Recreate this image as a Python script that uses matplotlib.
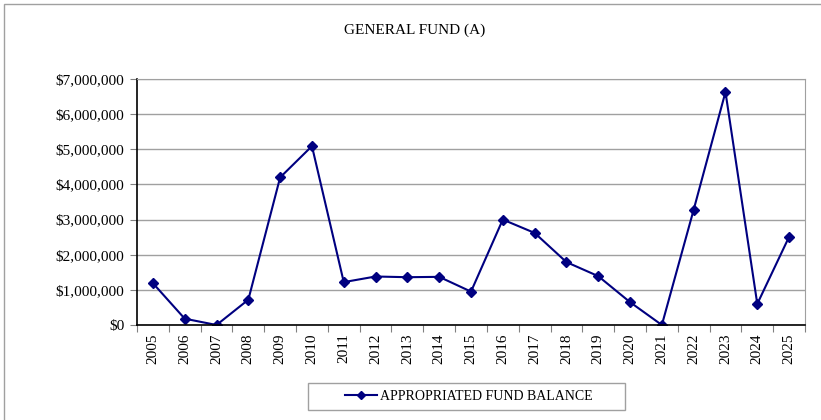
import numpy as np
import matplotlib
matplotlib.use("Agg")
import matplotlib.pyplot as plt
from matplotlib.patches import Rectangle
from matplotlib.ticker import FuncFormatter, FixedLocator, NullFormatter

plt.rcParams['font.family'] = ['Liberation Serif', 'DejaVu Serif']

years = [str(y) for y in range(2005, 2026)]
balance = [1190000, 180000, 0, 720000, 4200000, 5090000, 1220000, 1380000,
           1360000, 1370000, 950000, 3000000, 2620000, 1790000, 1390000,
           650000, 0, 3280000, 6630000, 600000, 2510000]

W, H = 821, 420
fig = plt.figure(figsize=(W/100, H/100), dpi=100)
ax = fig.add_axes([137/W, 1 - 325/H, (805 - 137)/W, (325 - 79)/H])

# chart frame
fig.patches.append(Rectangle((4/W, -0.1), 1.2, 1 - 4/H + 0.1,
                             transform=fig.transFigure, fill=False,
                             edgecolor='#a0a0a0', linewidth=1.0))

x = np.arange(len(years))
ax.plot(x, balance, color='#000080', linewidth=1.5, marker='D',
        markersize=5, label='APPROPRIATED FUND BALANCE')

ax.set_xlim(-0.5, len(years) - 0.5)
ax.set_ylim(0, 7000000)
ax.set_yticks(np.arange(0, 7000001, 1000000))
ax.yaxis.set_major_formatter(FuncFormatter(lambda v, p: '${:,.0f}'.format(v)))
ax.grid(axis='y', color='#a0a0a0', linewidth=1.0)
ax.set_axisbelow(True)

# category ticks sit between years, labels centred on each year
ax.xaxis.set_major_locator(FixedLocator(np.arange(-0.5, len(years), 1.0)))
ax.xaxis.set_major_formatter(NullFormatter())
ax.set_xticks(x, minor=True)
ax.set_xticklabels(years, minor=True, rotation=90, fontsize=11)
ax.tick_params(axis='x', which='minor', length=0, pad=6)
ax.tick_params(axis='x', which='major', length=5, color='#808080')
ax.tick_params(axis='y', length=5, color='#808080', labelsize=11, pad=4)

for s in ['top', 'right']:
    ax.spines[s].set_color('#a0a0a0')
for s in ['left', 'bottom']:
    ax.spines[s].set_color('black')
    ax.spines[s].set_linewidth(1.2)

fig.text(415/W, 1 - 30/H, 'GENERAL FUND (A)', ha='center', va='center',
         fontsize=11)

# legend box drawn separately so its padding can be set in pixels
fig.patches.append(Rectangle((308/W, 1 - 410/H), (625 - 308)/W, 27/H,
                             transform=fig.transFigure, fill=False,
                             edgecolor='#a0a0a0', linewidth=1.0))
fig.legend(loc='center left', bbox_to_anchor=(345/W, 1 - 396.5/H),
           fontsize=10, frameon=False, handlelength=2.3, handletextpad=0.25,
           borderpad=0, borderaxespad=0, markerscale=0.9)

fig.savefig('out.png', dpi=100)
